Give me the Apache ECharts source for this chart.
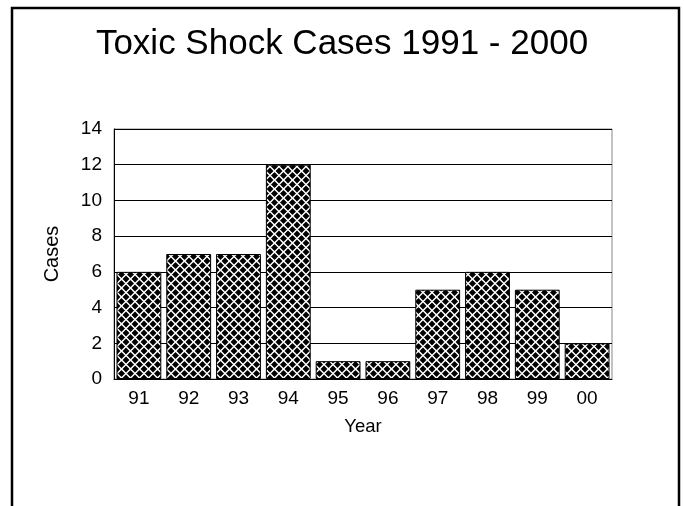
<!DOCTYPE html>
<html>
<head>
<meta charset="utf-8">
<script src="https://cdn.jsdelivr.net/npm/echarts@6/dist/echarts.min.js"></script>
<style>
  html, body { margin: 0; padding: 0; background: #fff; }
  #chart { width: 684px; height: 506px; }
</style>
</head>
<body>
<div id="chart"></div>
<script>
// Toxic shock cases per year, 1991 - 2000
const years = ['91', '92', '93', '94', '95', '96', '97', '98', '99', '00'];
const cases = [6, 7, 7, 12, 1, 1, 5, 6, 5, 2];
const yTicks = { min: 0, max: 14, interval: 2 };

// Black fill with white cross-hatching
function hatchTile() {
  const s = 9;
  const c = document.createElement('canvas');
  c.width = s; c.height = s;
  const g = c.getContext('2d');
  g.fillStyle = '#000';
  g.fillRect(0, 0, s, s);
  g.strokeStyle = '#fff';
  g.lineWidth = 1.5;
  g.beginPath();
  g.moveTo(0, s / 2); g.lineTo(s / 2, 0);
  g.lineTo(s, s / 2); g.lineTo(s / 2, s);
  g.closePath();
  g.stroke();
  return c;
}

const chart = echarts.init(document.getElementById('chart'), null, { renderer: 'canvas' });
const font = '"Liberation Sans", Arial, sans-serif';

chart.setOption({
  animation: false,
  backgroundColor: '#fff',
  title: {
    text: 'Toxic Shock Cases 1991 - 2000',
    left: 'center',
    top: 22,
    textStyle: { fontFamily: font, fontSize: 35, fontWeight: 'normal', color: '#000' }
  },
  graphic: [{
    type: 'rect',
    shape: { x: 12, y: 8, width: 667, height: 520 },
    style: { fill: 'none', stroke: '#000', lineWidth: 2.5 },
    silent: true
  }],
  grid: { left: 114, right: 72, top: 129, bottom: 127, show: true, borderColor: '#888', borderWidth: 1 },
  xAxis: {
    type: 'category',
    data: years,
    name: 'Year',
    nameLocation: 'middle',
    nameGap: 38,
    nameTextStyle: { fontFamily: font, fontSize: 18.5, color: '#000' },
    axisLine: { lineStyle: { color: '#000', width: 1 } },
    axisTick: { show: false },
    axisLabel: { fontFamily: font, fontSize: 19, color: '#000', margin: 10 }
  },
  yAxis: {
    type: 'value',
    min: yTicks.min,
    max: yTicks.max,
    interval: yTicks.interval,
    name: 'Cases',
    nameLocation: 'middle',
    nameGap: 52,
    nameTextStyle: { fontFamily: font, fontSize: 20, color: '#000' },
    axisLine: { show: true, lineStyle: { color: '#000', width: 1 } },
    axisTick: { show: false },
    axisLabel: { fontFamily: font, fontSize: 19, color: '#000', margin: 12 },
    splitLine: { lineStyle: { color: '#000', width: 1 } }
  },
  series: [{
    type: 'bar',
    data: cases,
    barCategoryGap: '10%',
    itemStyle: {
      color: { image: hatchTile(), repeat: 'repeat' },
      borderColor: '#000',
      borderWidth: 1
    }
  }]
});
</script>
</body>
</html>
